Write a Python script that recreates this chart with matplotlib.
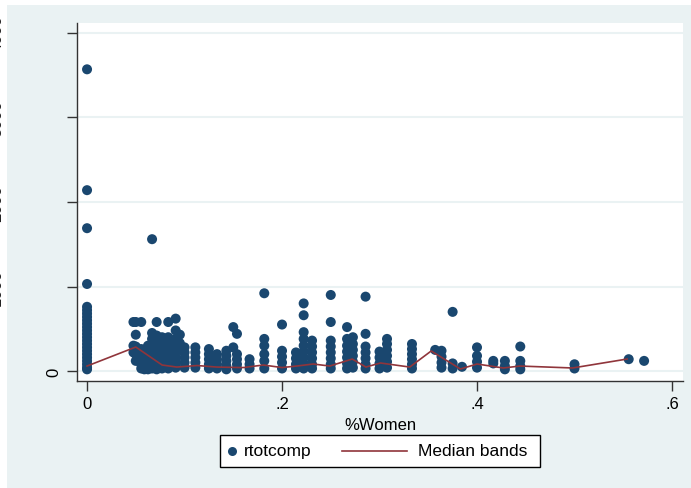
import matplotlib
matplotlib.use("Agg")
import matplotlib.pyplot as plt
from matplotlib.patches import Rectangle
from matplotlib.lines import Line2D

# share of women on the board -> total compensation values observed at that share
share_women = [
    0.0, 0.0476, 0.05, 0.0556, 0.0588, 0.0625, 0.0667, 0.0714, 0.0769, 0.0833,
    0.0909, 0.0952, 0.1, 0.1111, 0.125, 0.1333, 0.1429, 0.15, 0.1538, 0.1667,
    0.1818, 0.2, 0.2143, 0.2222, 0.2308, 0.25, 0.2667, 0.2727, 0.2857, 0.3,
    0.3077, 0.3333, 0.3571, 0.3636, 0.375, 0.3846, 0.4, 0.4167, 0.4286, 0.4444,
    0.5, 0.5556, 0.5714,
]
rtotcomp = [
    [3570, 2140, 1690, 1030, 760, 720, 680, 640, 600, 560, 520, 480, 440, 400,
     360, 320, 280, 240, 200, 160, 120, 80, 40, 20],
    [580, 300, 220],
    [580, 430, 290, 200, 120],
    [580, 260, 170, 80, 30],
    [200, 130, 60, 20],
    [300, 240, 180, 120, 60, 20],
    [1560, 450, 380, 320, 260, 200, 140, 80, 30],
    [580, 420, 360, 300, 240, 180, 120, 60, 20],
    [400, 320, 260, 200, 140, 80, 30],
    [580, 400, 330, 270, 210, 150, 90, 30],
    [620, 480, 380, 300, 230, 160, 100, 40],
    [430, 330, 250],
    [280, 220, 160, 100, 40],
    [280, 220, 160, 100, 40],
    [260, 200, 140, 80, 30],
    [200, 140, 80, 30],
    [240, 180, 120, 60, 20],
    [520, 280],
    [440, 200, 140, 80, 30],
    [140, 80, 30],
    [920, 380, 300, 200, 120, 30],
    [550, 240, 170, 100, 30],
    [220, 150, 80, 30],
    [800, 660, 460, 380, 300, 230, 160, 90, 30],
    [360, 290, 220, 150, 80, 30],
    [900, 580, 360, 290, 220, 150, 80, 30],
    [520, 380, 300, 230, 160, 90, 30],
    [400, 320, 250, 180, 110, 40],
    [880, 440, 290, 220, 150, 80, 30],
    [230, 160, 90, 30],
    [380, 320, 250, 180, 110, 40],
    [320, 260, 200, 140, 80, 30],
    [250],
    [240, 170, 100, 40],
    [700, 90, 30],
    [50],
    [280, 180, 110, 40],
    [120, 90],
    [120, 60, 20],
    [290, 120, 60, 20],
    [80, 30],
    [140],
    [120],
]

# median bands
band_x = [0.0, 0.050, 0.077, 0.092, 0.113, 0.133, 0.160, 0.181, 0.200, 0.215,
          0.232, 0.249, 0.272, 0.286, 0.301, 0.331, 0.353, 0.383, 0.400, 0.427,
          0.444, 0.498, 0.554]
band_y = [59, 284, 71, 47, 65, 47, 41, 71, 41, 59,
          83, 59, 142, 47, 95, 47, 237, 24, 83, 36,
          59, 36, 142]

xtick_vals = [0, 0.2, 0.4, 0.6]
xtick_labels = ["0", ".2", ".4", ".6"]
ytick_vals = [0, 1000, 2000, 3000, 4000]
ytick_labels = ["0", "1000", "2000", "3000", "4000"]

navy = "#1a476f"
maroon = "#90353b"
bg = "#eaf2f3"

plt.rcParams["font.family"] = ["Liberation Sans", "DejaVu Sans"]

W, H = 691, 489
fig = plt.figure(figsize=(W / 100, H / 100), dpi=100, facecolor="white")
fig.patches.append(Rectangle((7 / W, 0), 1, (H - 6) / H, transform=fig.transFigure,
                             facecolor=bg, edgecolor="none", zorder=-10))

ax = fig.add_axes([77 / W, (H - 382) / H, (683 - 77) / W, (382 - 24) / H])
ax.set_facecolor("white")

xs, ys = [], []
for x, vals in zip(share_women, rtotcomp):
    xs += [x] * len(vals)
    ys += vals
ax.scatter(xs, ys, s=52, color=navy, edgecolors="none", zorder=3, clip_on=False)
ax.plot(band_x, band_y, color=maroon, lw=1.2, zorder=4)

ax.set_xlim(-0.0103, 0.6113)
ax.set_ylim(-118, 4118)

for sp in ["top", "right"]:
    ax.spines[sp].set_visible(False)
for sp in ["left", "bottom"]:
    ax.spines[sp].set_color("#333333")
    ax.spines[sp].set_linewidth(1.0)

ax.set_yticks(ytick_vals)
ax.set_yticklabels([ytick_labels[0]] + [""] * (len(ytick_labels) - 1),
                   rotation=90, va="center", fontsize=12)
ax.set_xticks(xtick_vals)
ax.set_xticklabels(xtick_labels, fontsize=12)
ax.tick_params(axis="both", length=7, width=1, color="#333333", pad=4)
ax.grid(axis="y", color=bg, lw=1.5)
ax.set_axisbelow(True)
ax.set_xlabel("%Women", fontsize=12, labelpad=4)

# the remaining y labels sit at the far left edge of the canvas
for v, lab in zip(ytick_vals[1:], ytick_labels[1:]):
    yfig = ax.transData.transform((0, v))[1] / H
    fig.text(4.2 / W, yfig, lab, rotation=90, ha="right", va="center",
             fontsize=12, color="#222222")

# legend box
ly = (H - 452) / H
fig.patches.append(Rectangle((220 / W, (H - 468) / H), 320 / W, 32 / H,
                             transform=fig.transFigure, facecolor="white",
                             edgecolor="black", lw=1.0))
fig.lines.append(Line2D([232 / W], [ly], transform=fig.transFigure, marker="o",
                        ms=6.5, color=navy, mec="none", ls="none"))
fig.text(244 / W, ly, "rtotcomp", fontsize=12.5, va="center", ha="left")
fig.lines.append(Line2D([342 / W, 407 / W], [ly, ly], transform=fig.transFigure,
                        color=maroon, lw=1.2))
fig.text(418 / W, ly, "Median bands", fontsize=12.5, va="center", ha="left")

fig.savefig("out.png", dpi=100, facecolor=fig.get_facecolor())
